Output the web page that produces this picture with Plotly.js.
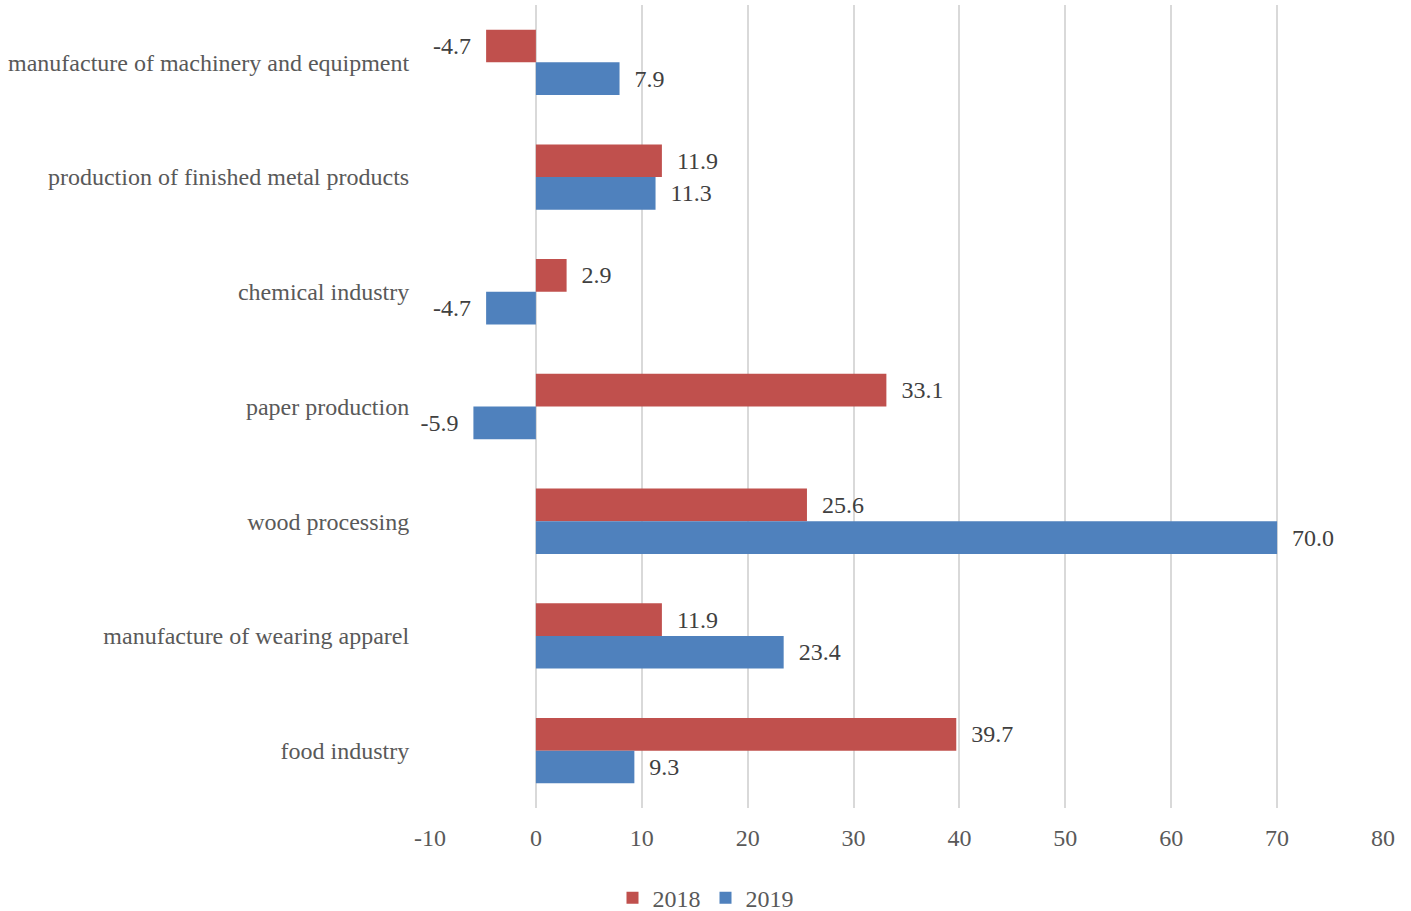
<!DOCTYPE html>
<html>
<head>
<meta charset="utf-8">
<script src="https://cdn.plot.ly/plotly-3.0.1.min.js"></script>
<style>html,body{margin:0;padding:0;background:#fff;}#chart{width:1411px;height:911px;}</style>
</head>
<body>
<div id="chart"></div>
<script>
const categories = [
  "manufacture of machinery and equipment",
  "production of finished metal products",
  "chemical industry",
  "paper production",
  "wood processing",
  "manufacture of wearing apparel",
  "food industry"
];
const values2018 = [-4.7, 11.9, 2.9, 33.1, 25.6, 11.9, 39.7];
const values2019 = [7.9, 11.3, -4.7, -5.9, 70.0, 23.4, 9.3];
const xTicks = [-10, 0, 10, 20, 30, 40, 50, 60, 70, 80];

const FONT = "'Liberation Serif', 'Times New Roman', serif";
const PAD = '\u00a0\u00a0';
const label = v => v < 0 ? v.toFixed(1) + PAD : PAD + v.toFixed(1);

const traces = [
  {
    type: 'bar', orientation: 'h', name: '2018',
    y: categories, x: values2018,
    marker: {color: '#c0504d'},
    text: values2018.map(label),
    textposition: 'outside', cliponaxis: false, constraintext: 'none',
    textfont: {family: FONT, size: 24, color: '#404040'}
  },
  {
    type: 'bar', orientation: 'h', name: '2019',
    y: categories, x: values2019,
    marker: {color: '#4f81bd'},
    text: values2019.map(label),
    textposition: 'outside', cliponaxis: false, constraintext: 'none',
    textfont: {family: FONT, size: 24, color: '#404040'}
  }
];

const layout = {
  width: 1411, height: 911,
  margin: {l: 430, r: 28, t: 5, b: 103},
  paper_bgcolor: '#fff', plot_bgcolor: '#fff',
  font: {family: FONT, size: 24, color: '#595959'},
  barmode: 'group',
  bargap: 0.43,
  bargroupgap: 0,
  showlegend: true,
  legend: {
    orientation: 'h', xref: 'container', yref: 'container',
    x: 0.5, xanchor: 'center', y: 0.014, yanchor: 'middle',
    font: {family: FONT, size: 24, color: '#595959'},
    itemwidth: 30, tracegroupgap: 0
  },
  xaxis: {
    range: [-10, 80],
    tickvals: xTicks,
    ticktext: xTicks.map(String),
    showgrid: true, gridcolor: '#d9d9d9', gridwidth: 2,
    zeroline: true, zerolinecolor: '#d9d9d9', zerolinewidth: 2,
    showline: false,
    ticks: 'outside', ticklen: 8, tickcolor: 'rgba(0,0,0,0)',
    tickfont: {family: FONT, size: 24, color: '#595959'},
    fixedrange: true
  },
  yaxis: {
    type: 'category',
    autorange: 'reversed',
    showgrid: false, zeroline: false, showline: false,
    ticks: 'outside', ticklen: 15, tickcolor: 'rgba(0,0,0,0)',
    tickfont: {family: FONT, size: 24, color: '#595959'},
    automargin: false,
    fixedrange: true
  }
};

Plotly.newPlot('chart', traces, layout, {displayModeBar: false, staticPlot: true});
</script>
</body>
</html>
